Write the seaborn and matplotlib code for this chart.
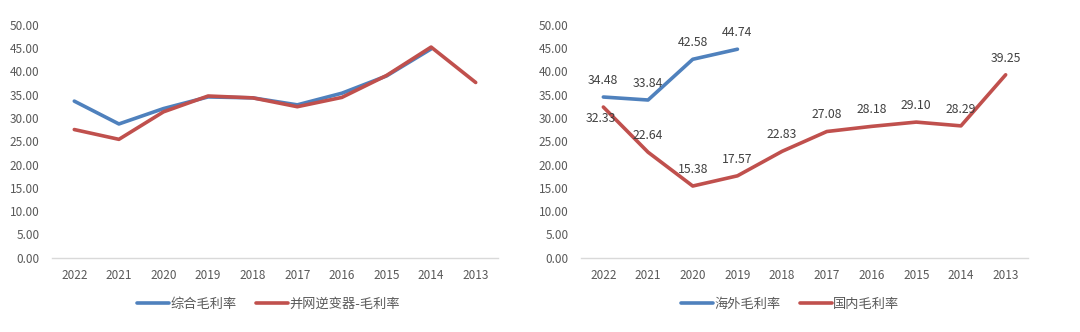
import matplotlib
matplotlib.use("Agg")
import matplotlib.pyplot as plt
import seaborn as sns
import pandas as pd
from matplotlib.lines import Line2D

sns.set_theme(style="white")
plt.rcParams['font.family'] = ['Noto Sans CJK SC', 'DejaVu Sans']

years = ["2022", "2021", "2020", "2019", "2018", "2017", "2016", "2015", "2014", "2013"]

# Left chart
left_names = ["综合毛利率", "并网逆变器-毛利率"]
total_margin = [33.6, 28.7, 32.0, 34.5, 34.3, 32.8, 35.3, 39.0, 44.8]
inverter_margin = [27.5, 25.4, 31.3, 34.7, 34.3, 32.4, 34.4, 39.1, 45.2, 37.6]

# Right chart
right_names = ["海外毛利率", "国内毛利率"]
overseas_margin = [34.48, 33.84, 42.58, 44.74]
domestic_margin = [32.33, 22.64, 15.38, 17.57, 22.83, 27.08, 28.18, 29.10, 28.29, 39.25]

yticks = [0, 5, 10, 15, 20, 25, 30, 35, 40, 45, 50]

BLUE = "#4F81BD"
RED = "#C0504D"
TICK_C = "#595959"
LABEL_C = "#404040"


def long_df(names, series):
    rows = []
    for n, vals in zip(names, series):
        for i, v in enumerate(vals):
            rows.append({"pos": i, "year": years[i], "value": v, "series": n})
    return pd.DataFrame(rows)


fig = plt.figure(figsize=(10.8, 3.32), dpi=100)
W, H = 1080, 332

def make_ax(x0, x1):
    y0, y1 = 257.7, 24.7
    ax = fig.add_axes([x0 / W, (H - y0) / H, (x1 - x0) / W, (y0 - y1) / H])
    return ax

axL = make_ax(52, 498)
axR = make_ax(581, 1028)

dfL = long_df(left_names, [total_margin, inverter_margin])
dfR = long_df(right_names, [overseas_margin, domestic_margin])

for ax, df, names, lx in [(axL, dfL, left_names, 0.485), (axR, dfR, right_names, 0.468)]:
    sns.lineplot(data=df, x="pos", y="value", hue="series", hue_order=names,
                 palette=[BLUE, RED], linewidth=2.6, ax=ax, legend=False,
                 sort=False, estimator=None)
    for ln in ax.get_lines():
        ln.set_solid_capstyle("round")
        ln.set_solid_joinstyle("round")
    ax.set_xlim(-0.5, len(years) - 0.5)
    ax.set_ylim(0, 50)
    ax.set_yticks(yticks)
    ax.set_yticklabels([f"{v:.2f}" for v in yticks], color=TICK_C, fontsize=8.5)
    ax.set_xticks(range(len(years)))
    ax.set_xticklabels(years, color=TICK_C, fontsize=8.5)
    ax.set_xlabel("")
    ax.set_ylabel("")
    ax.tick_params(axis="both", length=0, pad=8)
    ax.tick_params(axis="y", pad=9)
    for s in ["top", "right", "left"]:
        ax.spines[s].set_visible(False)
    ax.spines["bottom"].set_color("#D9D9D9")
    ax.spines["bottom"].set_linewidth(1.0)
    ax.patch.set_alpha(0)
    handles = [Line2D([0], [0], color=BLUE, lw=2.6),
               Line2D([0], [0], color=RED, lw=2.6)]
    ax.legend(handles, names, loc="center", bbox_to_anchor=(lx, -0.2),
              ncol=2, frameon=False, fontsize=9.5, handlelength=2.4,
              handletextpad=0.1, columnspacing=1.5,
              labelcolor=TICK_C)

# data labels on right chart
for i, v in enumerate(overseas_margin):
    axR.annotate(f"{v:.2f}", (i, v), xytext=(0, 12), textcoords="offset points",
                 ha="center", va="center", fontsize=8.8, color=LABEL_C)
for i, v in enumerate(domestic_margin):
    if i == 0:
        off = (-2, -8)
    else:
        off = (0, 12)
    axR.annotate(f"{v:.2f}", (i, v), xytext=off, textcoords="offset points",
                 ha="center", va="center", fontsize=8.8, color=LABEL_C)

fig.savefig("out.png", dpi=100)
